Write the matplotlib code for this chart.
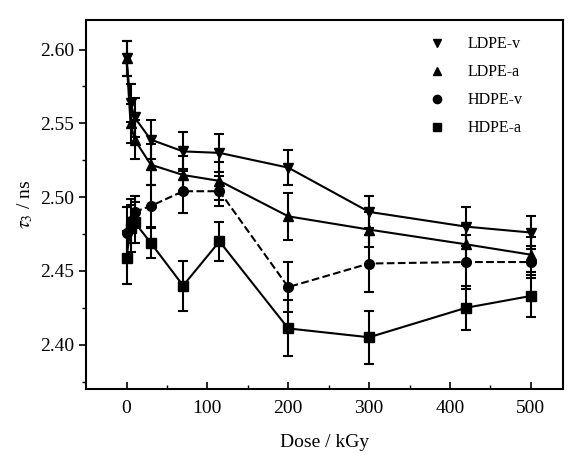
import matplotlib.pyplot as plt

plt.rcParams['font.family'] = 'Liberation Serif'
plt.rcParams['mathtext.fontset'] = 'stix'

# dose values (kGy)
dose = [0, 5, 10, 30, 70, 115, 200, 300, 420, 500]

ldpe_v = [2.594, 2.564, 2.554, 2.539, 2.531, 2.530, 2.520, 2.490, 2.480, 2.476]
ldpe_v_err = [0.012, 0.013, 0.013, 0.013, 0.013, 0.013, 0.012, 0.011, 0.013, 0.011]

ldpe_a = [2.594, 2.550, 2.539, 2.522, 2.515, 2.511, 2.487, 2.478, 2.468, 2.461]
ldpe_a_err = [0.012, 0.013, 0.013, 0.014, 0.013, 0.013, 0.016, 0.012, 0.013, 0.012]

hdpe_v = [2.476, 2.484, 2.490, 2.494, 2.504, 2.504, 2.439, 2.455, 2.456, 2.456]
hdpe_v_err = [0.017, 0.015, 0.011, 0.014, 0.015, 0.010, 0.017, 0.019, 0.018, 0.011]

hdpe_a = [2.459, 2.479, 2.483, 2.469, 2.440, 2.470, 2.411, 2.405, 2.425, 2.433]
hdpe_a_err = [0.018, 0.016, 0.014, 0.010, 0.017, 0.013, 0.019, 0.018, 0.015, 0.014]

fig = plt.figure(figsize=(5.7, 4.57), dpi=100)
ax = fig.add_axes([0.151, 0.149, 0.837, 0.807])

style = dict(color='black', ecolor='black', capsize=3.5, elinewidth=1.5,
             capthick=1.5, linewidth=1.5, markersize=7)
ax.errorbar(dose, ldpe_v, yerr=ldpe_v_err, marker='v', linestyle='-', label='LDPE-v', **style)
ax.errorbar(dose, ldpe_a, yerr=ldpe_a_err, marker='^', linestyle='-', label='LDPE-a', **style)
ax.errorbar(dose, hdpe_v, yerr=hdpe_v_err, marker='o', linestyle='--', label='HDPE-v', **style)
ax.errorbar(dose, hdpe_a, yerr=hdpe_a_err, marker='s', linestyle='-', label='HDPE-a', **style)

ax.set_xlim(-50, 540)
ax.set_ylim(2.37, 2.62)
ax.set_xticks([0, 100, 200, 300, 400, 500])
ax.set_xticks([50, 150, 250, 350, 450], minor=True)
ax.set_yticks([2.40, 2.45, 2.50, 2.55, 2.60])
ax.set_yticks([2.375, 2.425, 2.475, 2.525, 2.575], minor=True)
ax.yaxis.set_major_formatter(plt.FormatStrFormatter('%.2f'))

ax.tick_params(axis='x', which='both', direction='in', labelsize=14, pad=8)
ax.tick_params(axis='y', which='both', direction='out', labelsize=14)
ax.tick_params(which='major', length=5, width=1.2)
ax.tick_params(which='minor', length=3, width=1)
for s in ax.spines.values():
    s.set_linewidth(1.5)

ax.set_xlabel('Dose / kGy', fontsize=14, labelpad=12)
ax.set_ylabel(r'$\tau_3$ / ns', fontsize=14)

handles, labels = ax.get_legend_handles_labels()
leg = ax.legend([h[0] for h in handles], labels, loc='upper right',
                bbox_to_anchor=(0.945, 0.995), frameon=False, fontsize=11.5,
                handlelength=1.0, handletextpad=1.4, labelspacing=0.75,
                numpoints=1, markerscale=0.85)
for h in leg.legend_handles:
    h.set_linestyle('')

fig.savefig('out.png', dpi=100)
